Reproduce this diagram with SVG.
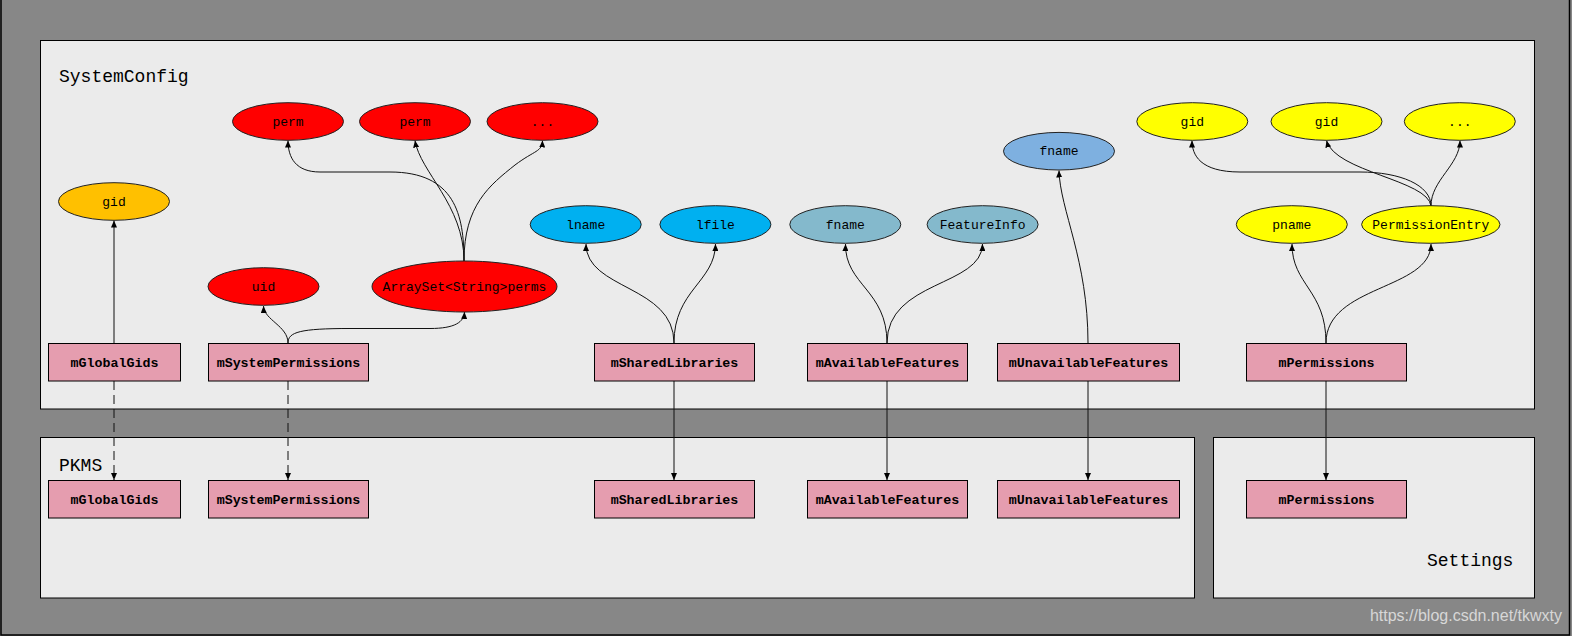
<svg xmlns="http://www.w3.org/2000/svg" width="1572" height="636" viewBox="0 0 1572 636">
<style>
.panel{fill:#ebebeb;stroke:#000;stroke-width:1}
.plabel{font-family:"Liberation Mono",monospace;font-size:18px;fill:#000}
.box{fill:#e59daf;stroke:#000;stroke-width:1}
.btxt{font-family:"Liberation Mono",monospace;font-size:13.3px;font-weight:bold;fill:#000;text-anchor:middle}
.ell{stroke:#222;stroke-width:1}
.etxt{font-family:"Liberation Mono",monospace;font-size:13px;fill:#000;text-anchor:middle}
.red{fill:#ff0000}.orange{fill:#ffc000}.cyan{fill:#00b0f0}.teal{fill:#84b9cc}.blue{fill:#7eb0e0}.yellow{fill:#ffff00}
.edge{fill:none;stroke:#111;stroke-width:1;marker-end:url(#arr)}
.dash{stroke-dasharray:9,5}
</style>
<defs>
<marker id="arr" markerUnits="userSpaceOnUse" markerWidth="7" markerHeight="6" refX="7" refY="3" orient="auto">
<path d="M0,0 L7,3 L0,6 z" fill="#000"/>
</marker>
</defs>
<rect x="0" y="0" width="1572" height="636" fill="#878787"/>
<path d="M1,0 V635 H1569.5 V0" fill="none" stroke="#000" stroke-width="1.5"/>
<g id="panel-systemconfig">
<rect class="panel" x="40.5" y="40.5" width="1494" height="368.5"/>
<text class="plabel" x="59" y="82">SystemConfig</text>
</g>
<g id="panel-pkms">
<rect class="panel" x="40.5" y="437.5" width="1154" height="160.5"/>
<text class="plabel" x="59" y="471">PKMS</text>
</g>
<g id="panel-settings">
<rect class="panel" x="1213.5" y="437.5" width="321" height="160.5"/>
<text class="plabel" x="1427" y="566">Settings</text>
</g>
<g id="connectors">
<path class="edge" d="M114,343 V220.5"/>
<path class="edge" d="M288,343 C288,326 264,320 263.5,306"/>
<path class="edge" d="M288,343 C288,332 300,328.5 350,328.5 L430,328.5 C455,328.5 464,322 464.5,312"/>
<path class="edge" d="M464,261 C464,215 455,172 390,172 L320,172 C296,172 288,158 288,140.5"/>
<path class="edge" d="M464,261 C464,205 420,172 415,140.5"/>
<path class="edge" d="M464,261 C464,205 490,185 515,165 C535,150 542,152 542.5,140.5"/>
<path class="edge" d="M674,343 C674,285 586,290 586,244"/>
<path class="edge" d="M674,343 C674,290 715,282 715.5,244"/>
<path class="edge" d="M887,343 C887,290 845,285 845.5,244"/>
<path class="edge" d="M887,343 C887,280 982,287 982.5,244"/>
<path class="edge" d="M1088,343 C1088,260 1060,210 1059,170.5"/>
<path class="edge" d="M1326,343 C1326,290 1292,285 1292,244"/>
<path class="edge" d="M1326,343 C1326,285 1431,290 1431,244"/>
<path class="edge" d="M1431,206 C1431,185 1400,172 1360,172 L1240,172 C1200,172 1192,155 1192,140.5"/>
<path class="edge" d="M1431,206 C1428,180 1335,172 1326.5,140.5"/>
<path class="edge" d="M1431,206 C1431,180 1460,165 1460,140.5"/>
<path class="edge dash" d="M114,381 V480"/>
<path class="edge dash" d="M288,381 V480"/>
<path class="edge" d="M674,381 V480"/>
<path class="edge" d="M887,381 V480"/>
<path class="edge" d="M1088,381 V480"/>
<path class="edge" d="M1326,381 V480"/>
</g>
<g id="sc-mGlobalGids"><rect class="box" x="48.5" y="343.5" width="132" height="37.5"/><text class="btxt" x="114.5" y="366.5">mGlobalGids</text></g>
<g id="sc-mSystemPermissions"><rect class="box" x="208.5" y="343.5" width="160" height="37.5"/><text class="btxt" x="288.5" y="366.5">mSystemPermissions</text></g>
<g id="sc-mSharedLibraries"><rect class="box" x="594.5" y="343.5" width="160" height="37.5"/><text class="btxt" x="674.5" y="366.5">mSharedLibraries</text></g>
<g id="sc-mAvailableFeatures"><rect class="box" x="807.5" y="343.5" width="160" height="37.5"/><text class="btxt" x="887.5" y="366.5">mAvailableFeatures</text></g>
<g id="sc-mUnavailableFeatures"><rect class="box" x="997.5" y="343.5" width="182" height="37.5"/><text class="btxt" x="1088.5" y="366.5">mUnavailableFeatures</text></g>
<g id="sc-mPermissions"><rect class="box" x="1246.5" y="343.5" width="160" height="37.5"/><text class="btxt" x="1326.5" y="366.5">mPermissions</text></g>
<g id="pk-mGlobalGids"><rect class="box" x="48.5" y="480.5" width="132" height="37.5"/><text class="btxt" x="114.5" y="503.5">mGlobalGids</text></g>
<g id="pk-mSystemPermissions"><rect class="box" x="208.5" y="480.5" width="160" height="37.5"/><text class="btxt" x="288.5" y="503.5">mSystemPermissions</text></g>
<g id="pk-mSharedLibraries"><rect class="box" x="594.5" y="480.5" width="160" height="37.5"/><text class="btxt" x="674.5" y="503.5">mSharedLibraries</text></g>
<g id="pk-mAvailableFeatures"><rect class="box" x="807.5" y="480.5" width="160" height="37.5"/><text class="btxt" x="887.5" y="503.5">mAvailableFeatures</text></g>
<g id="pk-mUnavailableFeatures"><rect class="box" x="997.5" y="480.5" width="182" height="37.5"/><text class="btxt" x="1088.5" y="503.5">mUnavailableFeatures</text></g>
<g id="st-mPermissions"><rect class="box" x="1246.5" y="480.5" width="160" height="37.5"/><text class="btxt" x="1326.5" y="503.5">mPermissions</text></g>
<g id="gid-global"><ellipse class="ell orange" cx="114" cy="201.5" rx="55.5" ry="18.8"/><text class="etxt" x="114" y="205.5">gid</text></g>
<g id="perm1"><ellipse class="ell red" cx="288" cy="121.5" rx="55.5" ry="18.8"/><text class="etxt" x="288" y="125.5">perm</text></g>
<g id="perm2"><ellipse class="ell red" cx="415" cy="121.5" rx="55.5" ry="18.8"/><text class="etxt" x="415" y="125.5">perm</text></g>
<g id="perm-more"><ellipse class="ell red" cx="542.5" cy="121.5" rx="55.5" ry="18.8"/><text class="etxt" x="542.5" y="125.5">...</text></g>
<g id="uid"><ellipse class="ell red" cx="263.5" cy="286.5" rx="55.5" ry="18.8"/><text class="etxt" x="263.5" y="290.5">uid</text></g>
<g id="perms"><ellipse class="ell red" cx="464.5" cy="286.5" rx="92.5" ry="25.5"/><text class="etxt" x="464.5" y="290.5">ArraySet&lt;String&gt;perms</text></g>
<g id="lname"><ellipse class="ell cyan" cx="585.7" cy="224.5" rx="55.5" ry="18.8"/><text class="etxt" x="585.7" y="228.5">lname</text></g>
<g id="lfile"><ellipse class="ell cyan" cx="715.4" cy="224.5" rx="55.5" ry="18.8"/><text class="etxt" x="715.4" y="228.5">lfile</text></g>
<g id="fname-avail"><ellipse class="ell teal" cx="845.3" cy="224.5" rx="55.5" ry="18.8"/><text class="etxt" x="845.3" y="228.5">fname</text></g>
<g id="featureinfo"><ellipse class="ell teal" cx="982.6" cy="224.5" rx="55.5" ry="18.8"/><text class="etxt" x="982.6" y="228.5">FeatureInfo</text></g>
<g id="fname-unavail"><ellipse class="ell blue" cx="1059" cy="151.2" rx="55.5" ry="18.8"/><text class="etxt" x="1059" y="155.2">fname</text></g>
<g id="gid1"><ellipse class="ell yellow" cx="1192.3" cy="121.5" rx="55.5" ry="18.8"/><text class="etxt" x="1192.3" y="125.5">gid</text></g>
<g id="gid2"><ellipse class="ell yellow" cx="1326.5" cy="121.5" rx="55.5" ry="18.8"/><text class="etxt" x="1326.5" y="125.5">gid</text></g>
<g id="gid-more"><ellipse class="ell yellow" cx="1459.8" cy="121.5" rx="55.5" ry="18.8"/><text class="etxt" x="1459.8" y="125.5">...</text></g>
<g id="pname"><ellipse class="ell yellow" cx="1291.8" cy="224.5" rx="55.5" ry="18.8"/><text class="etxt" x="1291.8" y="228.5">pname</text></g>
<g id="permissionentry"><ellipse class="ell yellow" cx="1430.8" cy="224.5" rx="69.2" ry="18.8"/><text class="etxt" x="1430.8" y="228.5">PermissionEntry</text></g>
<text x="1562" y="621" font-family="'Liberation Sans',Arial,sans-serif" font-size="16px" fill="#e6e6e6" fill-opacity="0.85" text-anchor="end">https://blog.csdn.net/tkwxty</text>
</svg>
